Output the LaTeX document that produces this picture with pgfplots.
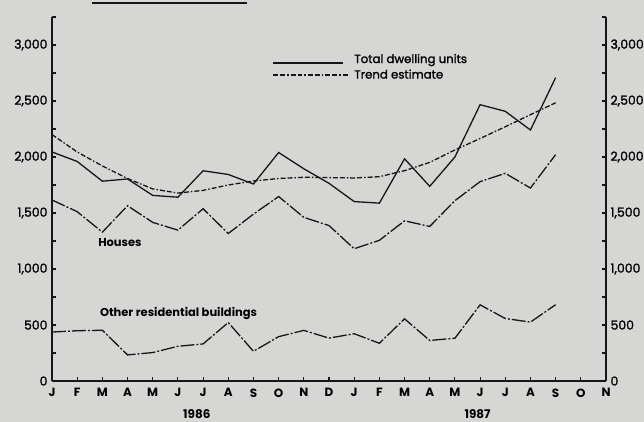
\documentclass[border=0pt]{standalone}
\usepackage{fontspec}
\setmainfont{Poppins}
\newfontfamily\medfont{Poppins}[FakeBold=1.5]
\usepackage{pgfplots}
\pgfplotsset{compat=1.18}
\usepackage{pgfplotstable}
\definecolor{bg}{RGB}{214,214,212}
\definecolor{ink}{RGB}{22,22,22}

\pgfplotstableread{
i total trend houses other
0  2045 2200 1616 437
1  1960 2045 1512 449
2  1784 1920 1329 453
3  1804 1808 1565 233
4  1657 1715 1416 254
5  1641 1678 1347 310
6  1877 1702 1538 331
7  1844 1750 1317 522
8  1759 1786 1490 265
9  2040 1808 1647 396
10 1895 1819 1461 452
11 1765 1816 1388 383
12 1602 1813 1181 422
13 1588 1824 1256 337
14 1984 1878 1430 555
15 1738 1952 1380 362
16 2000 2063 1610 382
17 2467 2165 1780 680
18 2408 2270 1854 558
19 2241 2378 1723 526
20 2709 2484 2021 681
}\data

\begin{document}
\begin{tikzpicture}
\fill[bg] (-52bp,-41bp) rectangle (592bp,381bp);
\useasboundingbox (-52bp,-41bp) rectangle (592bp,381bp);
\draw[ink, line width=1.3pt] (40bp,378bp) -- (195bp,378bp);
\pgfplotsset{
  common/.style={
    scale only axis, width=554bp, height=364bp,
    xmin=0, xmax=22, ymin=0, ymax=3250,
    ytick={0,500,...,3000},
    minor ytick={250,750,...,2750},
    extra y ticks={3250}, extra y tick labels={},
    tick align=inside,
    major tick length=4.5bp, minor tick length=4bp,
    every tick/.style={ink, line width=1.1pt},
    axis line style={ink, line width=1.4pt},
    scaled y ticks=false,
    /pgf/number format/.cd, 1000 sep={,}, assume math mode=true,
  }
}
\begin{axis}[common,
  axis x line*=bottom, axis y line*=left,
  xtick={0,...,22},
  xticklabels={J,F,M,A,M,J,J,A,S,O,N,D,J,F,M,A,M,J,J,A,S,O,N},
  x tick label style={font=\fontsize{12}{13}\selectfont\bfseries, yshift=-4bp},
  y tick label style={font=\fontsize{12.5}{13}\selectfont\medfont, xshift=-1bp},
  clip=false,
]
\addplot[ink, line width=1.3pt] table[x=i, y=total] {\data};
\addplot[ink, line width=1.3pt, dash pattern=on 5pt off 2pt on 5pt off 2pt on 1.5pt off 2pt] table[x=i, y=trend] {\data};
\addplot[ink, line width=1.3pt, dash pattern=on 14pt off 2pt on 2pt off 2pt] table[x=i, y=houses] {\data};
\addplot[ink, line width=1.3pt, dash pattern=on 14pt off 2pt on 2pt off 2pt] table[x=i, y=other] {\data};
% legend
\draw[ink, line width=1.3pt] (axis cs:8.78,2839) -- (axis cs:11.56,2839);
\draw[ink, line width=1.3pt, dash pattern=on 5pt off 2pt on 5pt off 2pt on 1.5pt off 2pt] (axis cs:8.78,2732) -- (axis cs:11.76,2732);
\node[anchor=west, inner sep=0pt, font=\fontsize{11.8}{13}\selectfont\medfont] at (axis cs:12.0,2865) {Total dwelling units};
\node[anchor=west, inner sep=0pt, font=\fontsize{11.8}{13}\selectfont\medfont] at (axis cs:12.0,2740) {Trend estimate};
\node[anchor=west, inner sep=0pt, font=\fontsize{11.5}{13}\selectfont\bfseries] at (axis cs:1.83,1232) {Houses};
\node[anchor=west, inner sep=0pt, font=\fontsize{11.5}{13}\selectfont\bfseries] at (axis cs:1.9,604) {Other residential buildings};
\node[font=\fontsize{12}{13}\selectfont\bfseries] at ([yshift=-33bp]axis cs:5.75,0) {1986};
\node[font=\fontsize{12}{13}\selectfont\bfseries] at ([yshift=-33bp]axis cs:16.9,0) {1987};
\end{axis}
\begin{axis}[common,
  axis x line=none, axis y line*=right,
  y tick label style={font=\fontsize{12.5}{13}\selectfont\medfont, xshift=1bp},
]
\end{axis}
\end{tikzpicture}
\end{document}
